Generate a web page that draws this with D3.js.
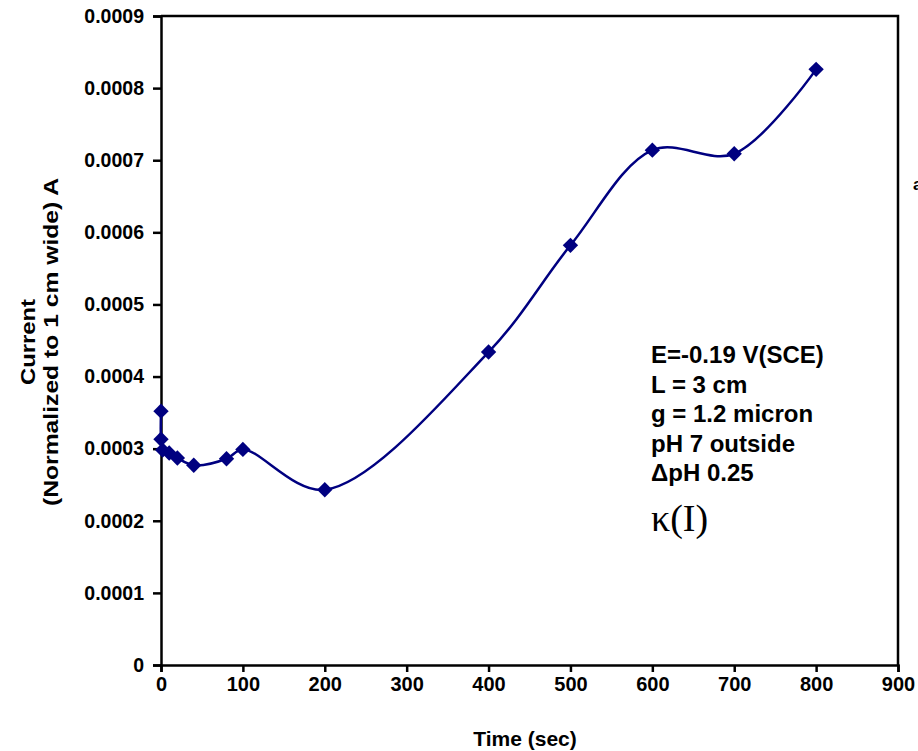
<!DOCTYPE html>
<html>
<head>
<meta charset="utf-8">
<script src="https://cdn.jsdelivr.net/npm/d3@7"></script>
<style>
  body { margin: 0; background: #fff; }
  text { font-family: "Liberation Sans", Arial, sans-serif; font-weight: bold; }
</style>
</head>
<body>
<div id="container"></div>
<script>
/* DATA */
const times = [0, 0, 2, 10, 20, 40, 80, 100, 200, 400, 500, 600, 700, 800];
const currents = [0.000352, 0.000313, 0.000298, 0.000294, 0.000287, 0.000277, 0.000286,
  0.000299, 0.000243, 0.000434, 0.000582, 0.000714, 0.000709, 0.000826];
const xTicks = [0, 100, 200, 300, 400, 500, 600, 700, 800, 900];
const yTicks = [0, 0.0001, 0.0002, 0.0003, 0.0004, 0.0005, 0.0006, 0.0007, 0.0008, 0.0009];
const notes = ["E=-0.19 V(SCE)", "L = 3 cm", "g = 1.2 micron", "pH 7 outside", "\u0394pH 0.25"];

/* CONSTANTS */
const width = 918, height = 751,
  plotLeft = 161, plotRight = 898, plotTop = 16, plotBottom = 665,
  lineColor = "#000080";

const svg = d3.select("#container")
  .append("svg")
  .attr("width", width)
  .attr("height", height);

/* SCALES */
const xScale = d3.scaleLinear().domain([0, 900]).range([plotLeft, plotRight]);
const yScale = d3.scaleLinear().domain([0, 0.0009]).range([plotBottom, plotTop]);

const data = times.map((t, i) => ({ t: t, c: currents[i] }));

// frame (top + right)
svg.append("path")
  .attr("d", `M${plotLeft},${plotTop}H${plotRight}V${plotBottom}`)
  .attr("fill", "none")
  .attr("stroke", "#000")
  .attr("stroke-width", 2.5);

/* AXES */
const xAxis = d3.axisBottom(xScale)
  .tickValues(xTicks)
  .tickFormat(d3.format("d"))
  .tickSizeOuter(0)
  .tickSize(7)
  .tickPadding(5);
svg.append("g")
  .attr("transform", `translate(0, ${plotBottom})`)
  .call(xAxis)
  .call(g => g.selectAll("line, path").attr("stroke", "#000").attr("stroke-width", 2.5))
  .call(g => g.selectAll("text").attr("fill", "#000").style("font-size", "20px"));

const yAxis = d3.axisLeft(yScale)
  .tickValues(yTicks)
  .tickFormat(d => d === 0 ? "0" : d3.format(".4f")(d))
  .tickSizeOuter(0)
  .tickSize(8)
  .tickPadding(9);
svg.append("g")
  .attr("transform", `translate(${plotLeft}, 0)`)
  .call(yAxis)
  .call(g => g.selectAll("line, path").attr("stroke", "#000").attr("stroke-width", 2.5))
  .call(g => g.selectAll("text").attr("fill", "#000").style("font-size", "19.5px"));

/* AXIS TITLES */
svg.append("text")
  .attr("x", 525)
  .attr("y", 746)
  .attr("text-anchor", "middle")
  .style("font-size", "21px")
  .text("Time (sec)");

const yTitle = svg.append("text")
  .attr("transform", "translate(35, 342) rotate(-90)")
  .attr("text-anchor", "middle")
  .style("font-size", "20px");
yTitle.append("tspan").attr("x", 0).attr("dy", 0)
  .attr("textLength", 86).attr("lengthAdjust", "spacingAndGlyphs")
  .text("Current");
yTitle.append("tspan").attr("x", 0).attr("dy", 23)
  .attr("textLength", 328).attr("lengthAdjust", "spacingAndGlyphs")
  .text("(Normalized to 1 cm wide) A");

/* LINE */
const line = d3.line()
  .x(d => xScale(d.t))
  .y(d => yScale(d.c))
  .curve(d3.curveCatmullRom.alpha(0.5));

svg.append("path")
  .datum(data)
  .attr("d", line)
  .attr("fill", "none")
  .attr("stroke", lineColor)
  .attr("stroke-width", 2.5);

svg.selectAll(".pt")
  .data(data)
  .join("path")
  .attr("class", "pt")
  .attr("d", d3.symbol(d3.symbolDiamond2, 150))
  .attr("transform", d => `translate(${xScale(d.t)}, ${yScale(d.c)})`)
  .attr("fill", lineColor);

/* ANNOTATION */
svg.selectAll(".note")
  .data(notes)
  .join("text")
  .attr("class", "note")
  .attr("x", 651)
  .attr("y", (d, i) => 363 + i * 29.5)
  .style("font-size", "24px")
  .text(d => d);

svg.append("text")
  .attr("x", 651)
  .attr("y", 531)
  .style("font-family", "'Liberation Serif', 'Times New Roman', serif")
  .style("font-weight", "normal")
  .style("font-size", "38px")
  .text("\u03BA(I)");

// cut-off character at the right edge
svg.append("text")
  .attr("x", 913)
  .attr("y", 190)
  .style("font-size", "17px")
  .text("a");
</script>
</body>
</html>
